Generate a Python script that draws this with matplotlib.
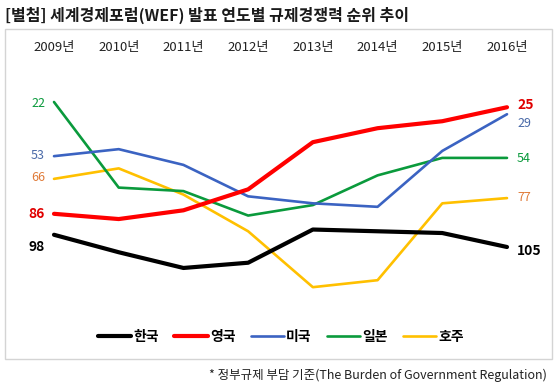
import numpy as np
import matplotlib
matplotlib.use("Agg")
import matplotlib.pyplot as plt
import matplotlib.transforms as mtransforms
from matplotlib.patches import Rectangle

plt.rcParams['font.family'] = ['Noto Sans CJK KR', 'DejaVu Sans']

# 데이터 (순위, 낮을수록 상위)
years = [2009, 2010, 2011, 2012, 2013, 2014, 2015, 2016]
year_labels = [f"{y}년" for y in years]
countries = ["한국", "영국", "미국", "일본", "호주"]
korea = [98, 108, 117, 114, 95, 96, 97, 105]
uk = [86, 89, 84, 72, 45, 37, 33, 25]
usa = [53, 49, 58, 76, 80, 82, 50, 29]
japan = [22, 71, 73, 87, 81, 64, 54, 54]
australia = [66, 60, 75, 96, 128, 124, 80, 77]
start_labels = ["98", "86", "53", "22", "66"]
end_labels = ["105", "25", "29", "54", "77"]

title = "[별첨] 세계경제포럼(WEF) 발표 연도별 규제경쟁력 순위 추이"
footnote = "* 정부규제 부담 기준(The Burden of Government Regulation)"

# 스타일
line_colors = ["#000000", "#ff0000", "#3b63c2", "#0a9a3c", "#ffc000"]
label_colors = ["#000000", "#e00000", "#4a6aa8", "#0a9a3c", "#e07b39"]
line_widths = [3.0, 3.0, 1.9, 1.9, 1.9]
bold = [True, True, False, False, False]
# 라벨 위치 보정 (픽셀)
start_dy = [-12, 0, 1, -1, 1]
end_dy = [-4, 2, -9, -1, 1]

W, H = 560, 386
fig = plt.figure(figsize=(W / 100, H / 100), dpi=100)
ax = fig.add_axes([0, 0, 1, 1])
ax.axis('off')

# 좌표 스케일 (픽셀 기준 배치)
x0_px, dx_px = 54, (507 - 54) / 7
y0_px, dy_px = 102, 1.747
ax.set_xlim(2009 - x0_px / dx_px, 2009 + (W - x0_px) / dx_px)
ax.set_ylim(22 + (H - y0_px) / dy_px, 22 - y0_px / dy_px)

series = [korea, uk, usa, japan, australia]
handles = []
for i, vals in enumerate(series):
    h, = ax.plot(years, vals, color=line_colors[i], lw=line_widths[i],
                 solid_capstyle='round', solid_joinstyle='round',
                 label=countries[i], zorder=5 - i if i > 1 else 6 - i)
    handles.append(h)
    fw = 'bold' if bold[i] else 'normal'
    fs = 10 if bold[i] else 9
    ax.annotate(start_labels[i], xy=(years[0], vals[0]), xytext=(-9, start_dy[i]),
                textcoords='offset pixels', ha='right', va='center',
                color=label_colors[i], fontsize=fs, fontweight=fw)
    ax.annotate(end_labels[i], xy=(years[-1], vals[-1]), xytext=(10, end_dy[i]),
                textcoords='offset pixels', ha='left', va='center',
                color=label_colors[i], fontsize=fs, fontweight=fw)

# 연도 라벨
trans = mtransforms.blended_transform_factory(ax.transData, ax.transAxes)
for y, lab in zip(years, year_labels):
    ax.text(y, 1 - 48 / H, lab, transform=trans, ha='center', va='center',
            fontsize=9.5, color='#222222')

# 제목과 테두리
fig.text(5 / W, 1 - 15 / H, title, ha='left', va='center', fontsize=11.5,
         fontweight='bold', color='#1a1a1a')
fig.patches.append(Rectangle((5 / W, 1 - 359 / H), (552 - 5) / W, (359 - 29) / H,
                             transform=fig.transFigure, fill=False,
                             edgecolor='#d4d4d4', lw=1))

# 범례
ax.legend(handles=handles, loc='center', bbox_to_anchor=(281 / W, 1 - 337 / H),
          bbox_transform=fig.transFigure, ncol=5, frameon=False,
          handlelength=2.4, handletextpad=0.15, columnspacing=1.1,
          prop={'size': 10, 'weight': 'bold'})

fig.text(547 / W, 1 - 375 / H, footnote, ha='right', va='center', fontsize=9,
         color='#222222')

fig.savefig("out.png", dpi=100)
